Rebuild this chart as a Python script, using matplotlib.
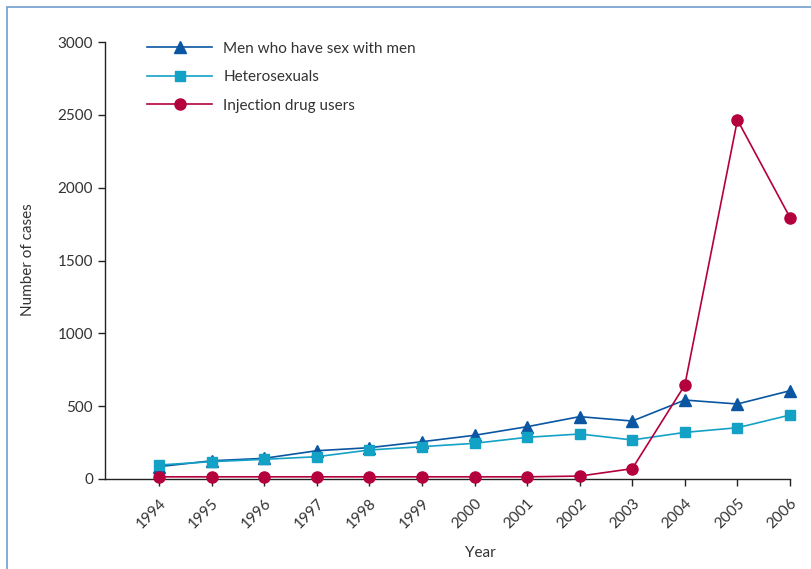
import matplotlib
matplotlib.use("Agg")
import matplotlib.pyplot as plt
from matplotlib.patches import Rectangle

years = list(range(1994, 2007))
msm = [85, 125, 142, 194, 215, 256, 300, 359, 428, 398, 542, 515, 606]
hetero = [96, 119, 135, 153, 199, 222, 245, 286, 309, 268, 320, 352, 439]
idu = [15, 15, 15, 15, 15, 15, 15, 15, 20, 71, 645, 2465, 1795]
series_labels = ["Men who have sex with men", "Heterosexuals", "Injection drug users"]
yticks = [0, 500, 1000, 1500, 2000, 2500, 3000]

plt.rcParams['font.family'] = ['Lato', 'DejaVu Sans']
W, H = 812, 569
fig = plt.figure(figsize=(W/100, H/100), dpi=100)
fig.patches.append(Rectangle((7/W, -0.1), 1.2, 1 - 7/H + 0.1, transform=fig.transFigure,
                             fill=False, edgecolor='#6f9ccd', linewidth=1.2))
ax = fig.add_axes([105/W, 1 - 479/H, (790 - 105)/W, (479 - 42)/H])

c_msm = '#0a56a2'
c_het = '#14a1c6'
c_idu = '#b4003c'
ax.plot(years, msm, color=c_msm, marker='^', markersize=8, linewidth=1.2, clip_on=False, label=series_labels[0], zorder=3)
ax.plot(years, hetero, color=c_het, marker='s', markersize=7, linewidth=1.2, clip_on=False, label=series_labels[1], zorder=3)
ax.plot(years, idu, color=c_idu, marker='o', markersize=8, linewidth=1.2, clip_on=False, label=series_labels[2], zorder=4)

step = (790 - 159) / 12
ax.set_xlim(1994 - (159 - 105) / step, 2006)
ax.set_ylim(0, 3000)
ax.set_yticks(yticks)
ax.set_xticks(years)
ax.set_xticklabels([str(y) for y in years], rotation=45, ha='right', rotation_mode='anchor')
for s in ['top', 'right']:
    ax.spines[s].set_visible(False)
for s in ['left', 'bottom']:
    ax.spines[s].set_linewidth(1.0)
    ax.spines[s].set_color('#222222')
ax.tick_params(axis='both', direction='out', length=5, width=1.0, colors='#222222', labelsize=11, labelcolor='#333333')
ax.tick_params(axis='x', pad=7)
fig.text(480/W, 1 - 553/H, "Year", ha='center', va='center', fontsize=11, color='#333333')
fig.text(28/W, 1 - 260/H, "Number of cases", ha='center', va='center', rotation=90, fontsize=11, color='#333333')

leg = ax.legend(loc='upper left', bbox_to_anchor=((133 - 105)/(790 - 105), 1.032), frameon=False,
                handlelength=4.3, fontsize=11, labelspacing=0.95, handletextpad=0.7, labelcolor='#333333')

fig.savefig("out.png", dpi=100)
